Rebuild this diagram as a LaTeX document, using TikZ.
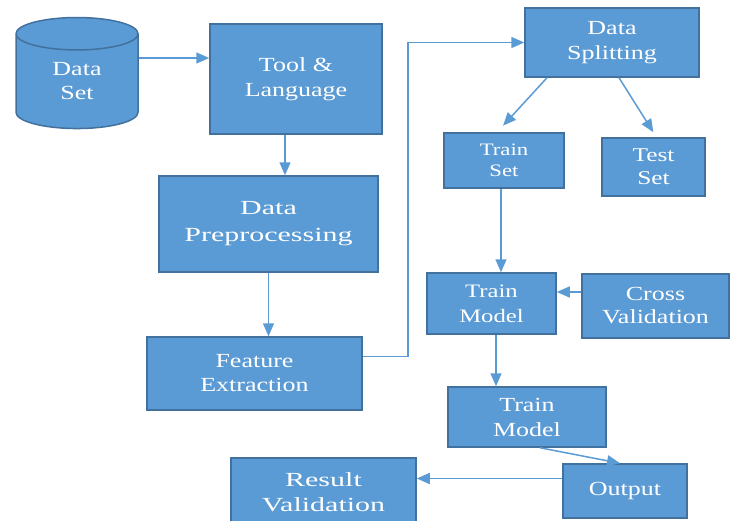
\documentclass[tikz,border=0pt]{standalone}
\usepackage{fontspec}
\setmainfont{Liberation Serif}[FakeStretch=1.3]
\newfontfamily\wideserif{Liberation Serif}[FakeStretch=1.5]
\usetikzlibrary{shapes.geometric,arrows.meta}
\definecolor{boxblue}{RGB}{91,155,213}
\definecolor{boxedge}{RGB}{65,113,156}
\definecolor{toplight}{RGB}{157,195,230}

\begin{document}
\begin{tikzpicture}[x=1pt, y=-1pt,
                    line width=1.5pt,
                    >={Triangle[length=13pt,width=11pt]}]
    \tikzstyle{block}=[rectangle,fill=boxblue,draw=boxedge,line width=1.5pt,text=white,align=center,inner sep=0pt,font=\fontsize{20}{25}\selectfont]
    \tikzstyle{bigblock}=[block,font=\wideserif\fontsize{20}{27}\selectfont]
    \tikzstyle{smallblock}=[block,font=\fontsize{17.5}{21}\selectfont]
    \tikzstyle{store}=[block,cylinder,shape border rotate=90,aspect=0.66,cylinder uses custom fill,cylinder body fill=boxblue,cylinder end fill=toplight,font=\fontsize{20}{24}\selectfont]
    \tikzstyle{flow}=[->,draw=boxblue,line width=1.5pt]

    \clip (0,0) rectangle (731,520);

    % left column
    \node[store,minimum width=122pt,minimum height=111pt] (dataset) at (77,81.5) {Data\\Set};
    \node[block,minimum width=172pt,minimum height=110pt] (tool) at (296,79) {Tool \&\\Language};
    \node[bigblock,minimum width=219pt,minimum height=96pt] (prep) at (268.5,224) {Data\\Preprocessing};
    \node[block,font=\fontsize{20}{24}\selectfont,minimum width=215pt,minimum height=73pt] (feat) at (254.5,373.5) {Feature\\Extraction};

    % right column
    \node[block,minimum width=174pt,minimum height=69pt] (split) at (612,42.5) {Data\\Splitting};
    \node[smallblock,minimum width=120pt,minimum height=55pt] (trainset) at (504,160.5) {Train\\Set};
    \node[block,font=\fontsize{19.5}{23}\selectfont,minimum width=103pt,minimum height=58pt] (testset) at (653.5,167) {Test\\Set};
    \node[block,font=\fontsize{19}{25}\selectfont,minimum width=129pt,minimum height=61pt] (modelA) at (491.5,303.5) {Train\\Model};
    \node[block,font=\fontsize{20}{23}\selectfont,minimum width=147pt,minimum height=64pt] (cross) at (655.5,306) {Cross\\Validation};
    \node[block,minimum width=158pt,minimum height=60pt] (modelB) at (527,417) {Train\\Model};
    \node[block,minimum width=124pt,minimum height=54pt] (output) at (625,491) {Output};
    \node[bigblock,font=\wideserif\fontsize{20}{25}\selectfont,minimum width=185pt,minimum height=68pt] (result) at (323.5,492) {Result\\Validation};

    % connectors
    \coordinate (ds) at ([yshift=23.5pt]dataset.east);
    \draw[flow] (ds) -- (ds -| tool.west);
    \coordinate (tl) at ([xshift=-11pt]tool.south);
    \draw[flow] (tl) -- (tl |- prep.north);
    \draw[flow] (prep.south) -- (prep.south |- feat.north);
    \coordinate (fe) at ([yshift=17pt]feat.east);
    \draw[flow] (fe) -- ++(45,0) |- (split.west);
    \draw[flow,shorten >=9pt] ([xshift=-65pt]split.south) -- ([xshift=-7pt]trainset.north);
    \draw[flow,shorten >=6pt] ([xshift=7pt]split.south) -- ([xshift=3pt]testset.north);
    \coordinate (ts) at ([xshift=-3pt]trainset.south);
    \draw[flow] (ts) -- (ts |- modelA.north);
    \coordinate (cv) at ([yshift=14pt]cross.west);
    \draw[flow] (cv) -- (cv -| modelA.east);
    \coordinate (ma) at ([xshift=4.5pt]modelA.south);
    \draw[flow] (ma) -- (ma |- modelB.north);
    \draw[flow] ([xshift=13pt]modelB.south) -- ([xshift=-5pt]output.north);
    \coordinate (op) at ([yshift=12.5pt]output.west);
    \draw[flow] (op) -- (op -| result.east);
\end{tikzpicture}
\end{document}
